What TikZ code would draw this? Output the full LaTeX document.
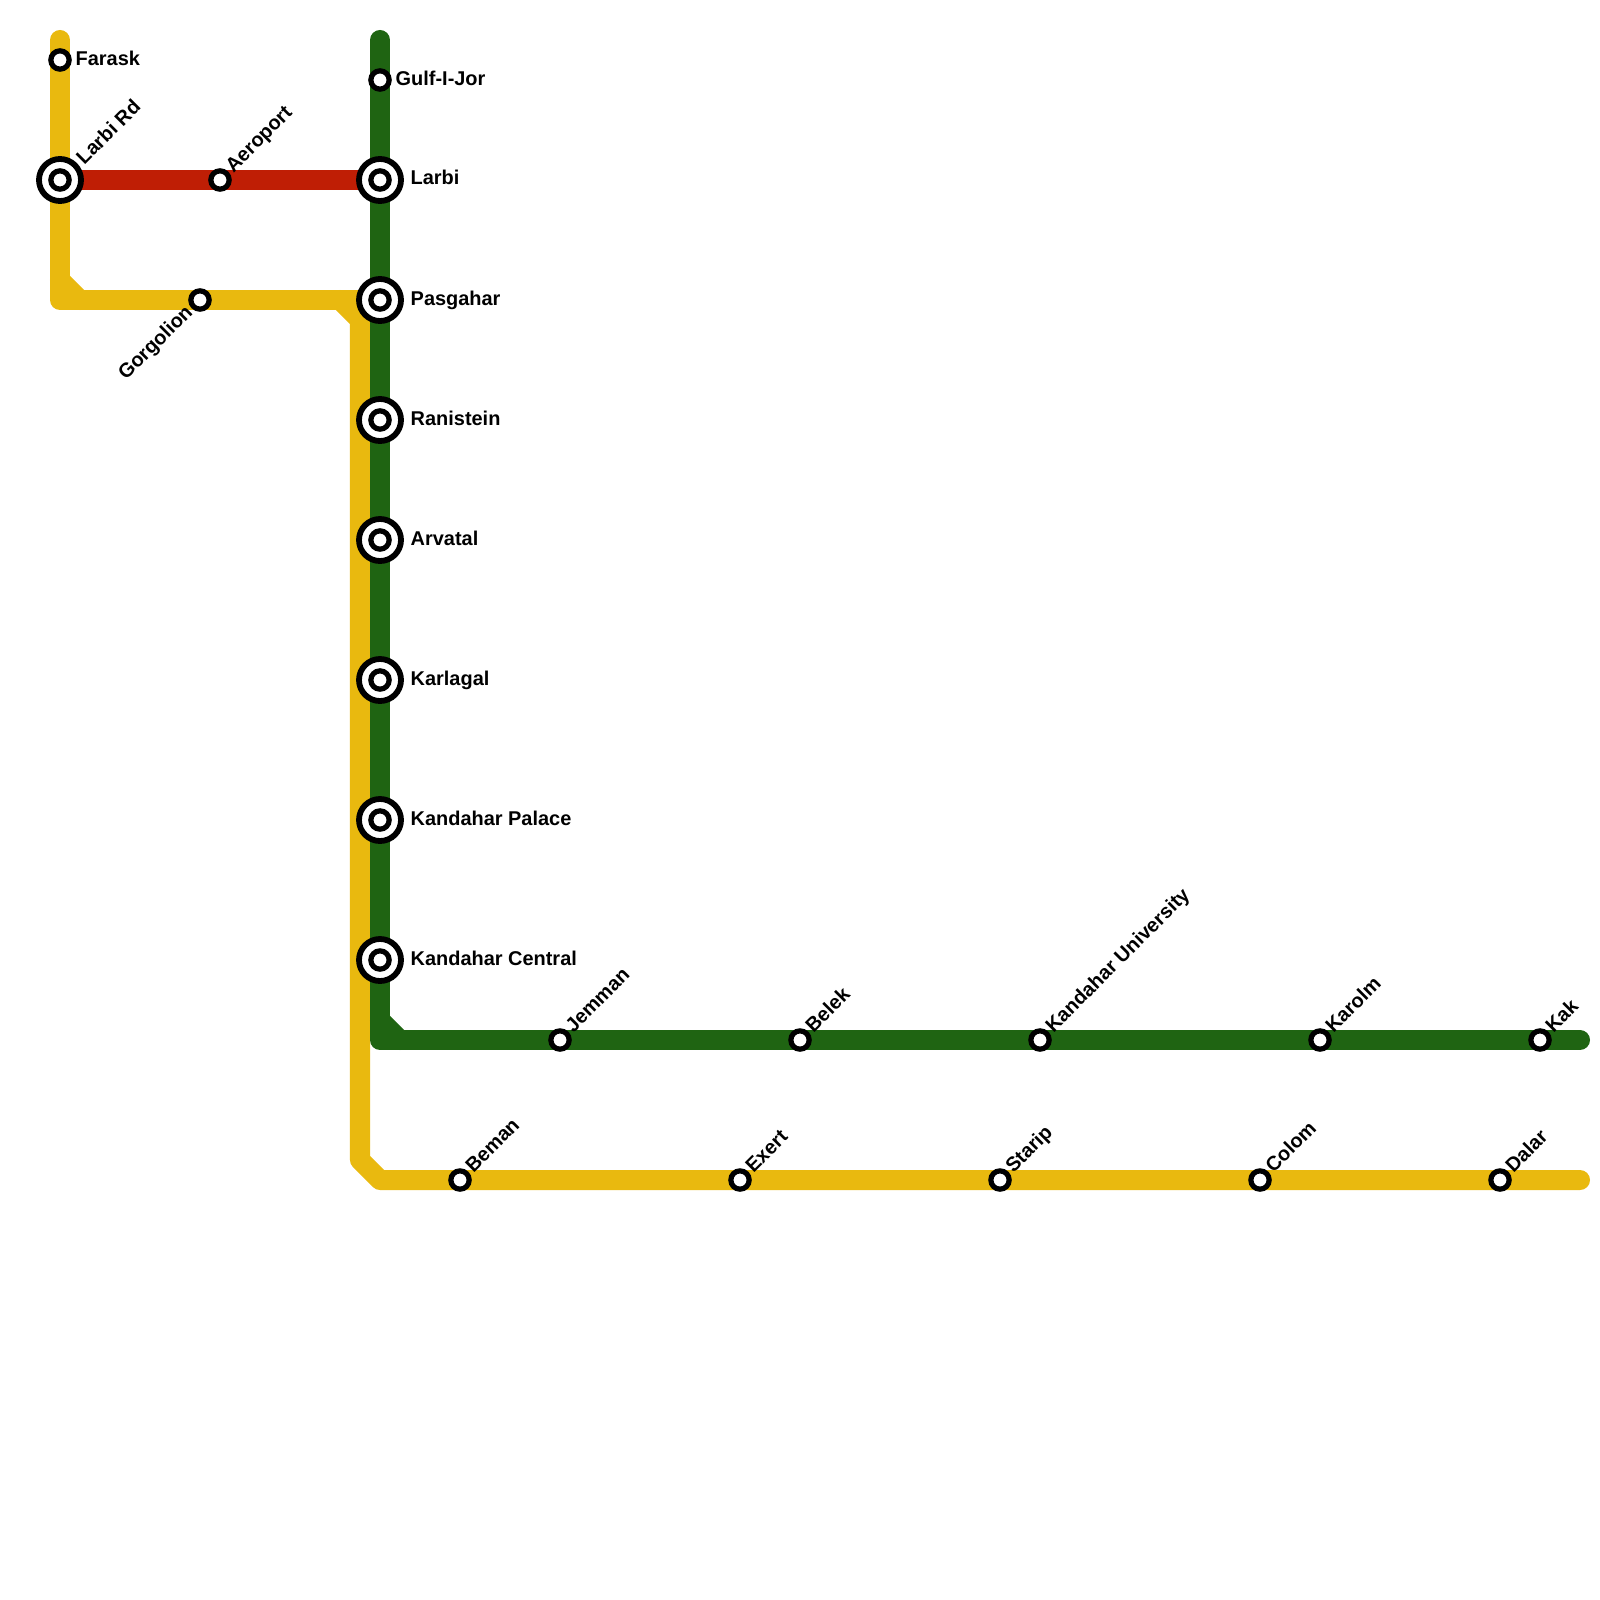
\documentclass[tikz,border=0pt]{standalone}
\usepackage{fontspec}
\setmainfont{Liberation Sans}
\definecolor{linegold}{RGB}{233,185,15}
\definecolor{linegreen}{RGB}{31,100,18}
\definecolor{linered}{RGB}{191,30,5}

\begin{document}
\begin{tikzpicture}[
  x=0.01cm,
  y=-0.01cm,
  metro/.style={
    draw=#1,
    line width=0.2cm,
    line cap=round,
    line join=round
  },
  station/.style={
    circle,
    draw=black,
    fill=white,
    line width=0.052cm,
    inner sep=0pt,
    minimum size=0.183cm
  },
  interchange/.style={
    circle,
    draw=black,
    fill=white,
    line width=0.058cm,
    inner sep=0pt,
    minimum size=0.42cm
  },
  flat/.style={
    font=\bfseries\fontsize{5.67pt}{7pt}\selectfont,
    inner sep=0pt,
    anchor=base west
  },
  tilted/.style={
    flat,
    rotate=45
  },
  tiltedback/.style={
    flat,
    anchor=base east,
    rotate=45
  }
]
\useasboundingbox (0,0) rectangle (1600,1600);

% -------- Line points --------
\coordinate (ytop) at (60,40);
\coordinate (ybend) at (60,280);
\coordinate (ycorner) at (60,300);
\coordinate (yrun) at (80,300);
\coordinate (ypas) at (380,300);
\coordinate (yin) at (340,300);
\coordinate (ydown) at (360,320);
\coordinate (ylow) at (360,1160);
\coordinate (yfoot) at (380,1180);
\coordinate (yend) at (1580,1180);
\coordinate (gtop) at (380,40);
\coordinate (gbend) at (380,1020);
\coordinate (gcorner) at (380,1040);
\coordinate (grun) at (400,1040);
\coordinate (gend) at (1580,1040);
\coordinate (rleft) at (60,180);
\coordinate (rright) at (380,180);

% -------- Gold line --------
\draw[metro=linegold] (ytop) -- (ycorner) -- (ypas);
\draw[metro=linegold] (ybend) -- (yrun);
\draw[metro=linegold] (yin) -- (ydown) -- (ylow) -- (yfoot) -- (yend);

% -------- Red line --------
\draw[draw=linered,line width=0.2cm] (rleft) -- (rright);

% -------- Green line --------
\draw[metro=linegreen] (gtop) -- (gcorner) -- (gend);
\draw[metro=linegreen] (gbend) -- (grun);

% -------- Left column --------
\node[station] (farask) at (60,60) {};
\node[flat] (faraskl) at (75,66) {Farask};
\node[interchange] (larbirdo) at (60,180) {};
\node[station] (larbird) at (60,180) {};
\node[tilted] (larbirdl) at (84,166) {Larbi Rd};
\node[station] (aeroport) at (220,180) {};
\node[tilted] (aeroportl) at (233,174) {Aeroport};
\node[station] (gorgolion) at (200,300) {};
\node[tiltedback] (gorgolionl) at (194,313) {Gorgolion};

% -------- Green column --------
\node[station] (gulf) at (380,80) {};
\node[flat] (gulfl) at (395,86) {Gulf-I-Jor};
\node[interchange] (larbio) at (380,180) {};
\node[station] (larbi) at (380,180) {};
\node[flat] (larbil) at (410,185) {Larbi};
\node[interchange] (pasgaharo) at (380,300) {};
\node[station] (pasgahar) at (380,300) {};
\node[flat] (pasgaharl) at (410,305) {Pasgahar};
\node[interchange] (ranisteino) at (380,420) {};
\node[station] (ranistein) at (380,420) {};
\node[flat] (ranisteinl) at (410,425) {Ranistein};
\node[interchange] (arvatalo) at (380,540) {};
\node[station] (arvatal) at (380,540) {};
\node[flat] (arvatall) at (410,545) {Arvatal};
\node[interchange] (karlagalo) at (380,680) {};
\node[station] (karlagal) at (380,680) {};
\node[flat] (karlagall) at (410,685) {Karlagal};
\node[interchange] (palaceo) at (380,820) {};
\node[station] (palace) at (380,820) {};
\node[flat] (palacel) at (410,825) {Kandahar Palace};
\node[interchange] (centralo) at (380,960) {};
\node[station] (central) at (380,960) {};
\node[flat] (centrall) at (410,965) {Kandahar Central};

% -------- Green row --------
\node[station] (jemman) at (560,1040) {};
\node[tilted] (jemmanl) at (573,1034) {Jemman};
\node[station] (belek) at (800,1040) {};
\node[tilted] (belekl) at (813,1034) {Belek};
\node[station] (university) at (1040,1040) {};
\node[tilted] (universityl) at (1053,1034) {Kandahar University};
\node[station] (karolm) at (1320,1040) {};
\node[tilted] (karolml) at (1333,1034) {Karolm};
\node[station] (kak) at (1540,1040) {};
\node[tilted] (kakl) at (1553,1034) {Kak};

% -------- Gold row --------
\node[station] (beman) at (460,1180) {};
\node[tilted] (bemanl) at (473,1174) {Beman};
\node[station] (exert) at (740,1180) {};
\node[tilted] (exertl) at (753,1174) {Exert};
\node[station] (starip) at (1000,1180) {};
\node[tilted] (staripl) at (1013,1174) {Starip};
\node[station] (colom) at (1260,1180) {};
\node[tilted] (coloml) at (1273,1174) {Colom};
\node[station] (dalar) at (1500,1180) {};
\node[tilted] (dalarl) at (1513,1174) {Dalar};

\end{tikzpicture}
\end{document}
